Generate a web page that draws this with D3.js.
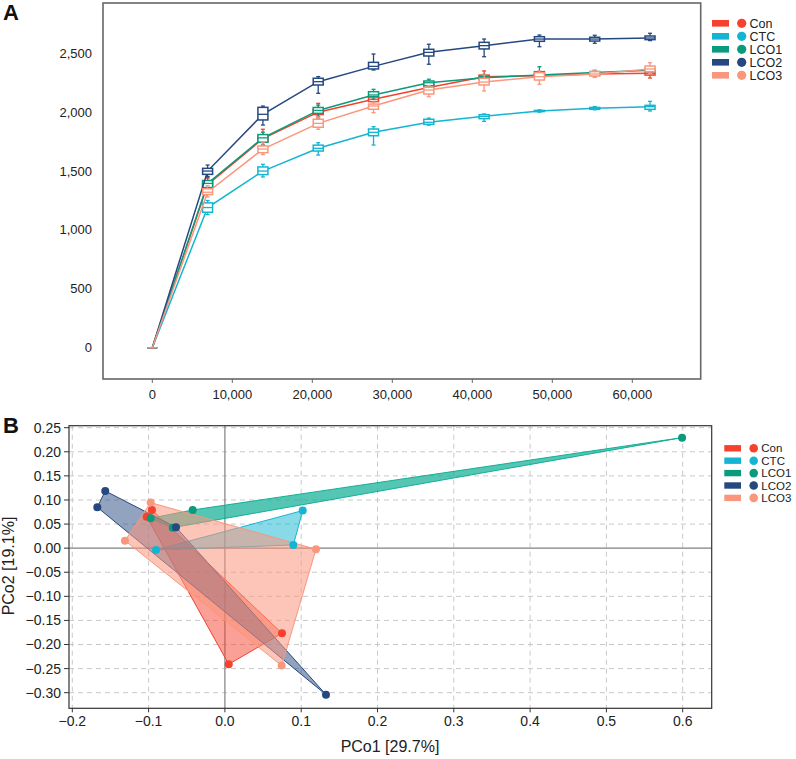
<!DOCTYPE html>
<html><head><meta charset="utf-8">
<script src="https://cdn.jsdelivr.net/npm/d3@7"></script>
<style>
html,body{margin:0;padding:0;background:#fff;}
svg{display:block;font-family:Arial,"Liberation Sans",Helvetica,sans-serif;}
</style></head>
<body>
<svg id="chart" width="796" height="759"></svg>
<script>
// ---------- DATA ----------
const groups = ["Con", "CTC", "LCO1", "LCO2", "LCO3"];
const colors = ["#F5412D", "#14B5D2", "#0A9A7C", "#24487F", "#FA967C"];

// Panel A: rarefaction depth and box stats [min, q1, median, q3, max]
const depth = [0, 6913, 13826, 20739, 27652, 34565, 41478, 48391, 55304, 62217];
const conBox = [[0,0,0,0,0],[1340,1365,1385,1410,1440],[1720,1750,1775,1800,1855],[1950,1980,2000,2025,2075],[2060,2090,2110,2130,2160],[2170,2195,2210,2235,2260],[2245,2275,2300,2315,2350],[2280,2300,2310,2325,2345],[2300,2315,2325,2335,2350],[2290,2315,2330,2345,2360]];
const ctcBox = [[0,0,0,0,0],[1130,1150,1190,1230,1250],[1450,1470,1500,1535,1557],[1636,1670,1693,1720,1741],[1721,1800,1829,1857,1877],[1890,1897,1914,1940,1950],[1922,1945,1965,1979,1985],[2000,2005,2010,2015,2020],[2020,2025,2033,2040,2048],[2010,2024,2047,2058,2092]];
const lco1Box = [[0,0,0,0,0],[1330,1360,1395,1420,1450],[1720,1745,1782,1810,1830],[1965,1990,2015,2040,2060],[2110,2131,2146,2174,2194],[2215,2225,2250,2265,2280],[2265,2280,2293,2305,2320],[2290,2301,2316,2344,2386],[2320,2330,2338,2345,2355],[2330,2345,2356,2365,2375]];
const lco2Box = [[0,0,0,0,0],[1452,1472,1500,1523,1551],[1891,1934,1982,2041,2052],[2160,2231,2259,2288,2302],[2358,2367,2389,2423,2494],[2407,2477,2508,2534,2577],[2471,2537,2565,2593,2621],[2556,2602,2621,2641,2655],[2585,2604,2621,2636,2653],[2608,2616,2630,2647,2670]];
const lco3Box = [[0,0,0,0,0],[1280,1300,1320,1350,1375],[1640,1656,1687,1713,1740],[1855,1872,1905,1940,1960],[1996,2025,2052,2069,2085],[2131,2154,2188,2211,2225],[2180,2231,2256,2288,2316],[2237,2273,2301,2336,2350],[2295,2307,2324,2344,2355],[2330,2344,2367,2392,2420]];
const xTicksA = [0, 10000, 20000, 30000, 40000, 50000, 60000];
const yTicksA = [0, 500, 1000, 1500, 2000, 2500];

// Panel B: PCoA coordinates [PCo1, PCo2]
const conPts = [[-0.0956,0.0793],[-0.1025,0.0654],[0.0748,-0.1767],[0.005,-0.241]];
const ctcPts = [[0.102,0.078],[0.0897,0.0066],[-0.0903,-0.0037]];
const lco1Pts = [[0.5992,0.2294],[-0.0422,0.0793],[-0.0973,0.062],[-0.0684,0.0426]];
const lco2Pts = [[-0.1568,0.1187],[-0.1672,0.0848],[-0.0641,0.0433],[0.1325,-0.304]];
const lco3Pts = [[-0.0973,0.0945],[-0.131,0.0156],[0.1194,-0.0023],[0.0744,-0.2438]];
const xTicksB = [-0.2, -0.1, 0.0, 0.1, 0.2, 0.3, 0.4, 0.5, 0.6];
const yTicksB = [0.25, 0.20, 0.15, 0.10, 0.05, 0.00, -0.05, -0.10, -0.15, -0.20, -0.25, -0.30];
const xTitleB = "PCo1 [29.7%]";
const yTitleB = "PCo2 [19.1%]";

// ---------- DRAW ----------
const svg = d3.select("#chart");
const boxes = [conBox, ctcBox, lco1Box, lco2Box, lco3Box];
const pts = [conPts, ctcPts, lco1Pts, lco2Pts, lco3Pts];
const polyFill = ["#F5412D", "#14B5D2", "#12B096", "#24487F", "#FA967C"];
const fillOp = [0.5, 0.5, 0.72, 0.5, 0.55];

// ===== Panel A =====
const A = {l:103, t:3, r:700.7, b:379};
const xA = d3.scaleLinear().domain([0, 60000]).range([152.3, 632.3]);
const yA = d3.scaleLinear().domain([0, 2500]).range([347.7, 53.3]);
const gA = svg.append("g");

gA.append("rect").attr("x", A.l).attr("y", A.t).attr("width", A.r - A.l).attr("height", A.b - A.t)
  .attr("fill", "none").attr("stroke", "#666").attr("stroke-width", 1.6);

const fmt = d3.format(",");
gA.selectAll(".xt").data(xTicksA).join("line")
  .attr("x1", d => xA(d)).attr("x2", d => xA(d)).attr("y1", A.b).attr("y2", A.b + 4)
  .attr("stroke", "#666").attr("stroke-width", 1);
gA.selectAll(".xl").data(xTicksA).join("text")
  .attr("x", d => xA(d)).attr("y", 399).attr("text-anchor", "middle")
  .attr("font-size", 13).attr("fill", "#222").text(d => fmt(d));
gA.selectAll(".yl").data(yTicksA).join("text")
  .attr("x", 92).attr("y", d => yA(d)).attr("dy", "0.35em").attr("text-anchor", "end")
  .attr("font-size", 13).attr("fill", "#222").text(d => fmt(d));

const line = d3.line().x((d, i) => xA(depth[i])).y(d => yA(d[2]));
boxes.forEach((bx, gi) => {
  const c = colors[gi];
  const g = gA.append("g");
  g.append("path").attr("d", line(bx)).attr("fill", "none").attr("stroke", c).attr("stroke-width", 1.5);
  const bw = 10, cw = 4;
  bx.forEach((s, i) => {
    const cx = xA(depth[i]);
    g.append("line").attr("x1", cx).attr("x2", cx).attr("y1", yA(s[0])).attr("y2", yA(s[1])).attr("stroke", c).attr("stroke-width", 1.3);
    g.append("line").attr("x1", cx).attr("x2", cx).attr("y1", yA(s[3])).attr("y2", yA(s[4])).attr("stroke", c).attr("stroke-width", 1.3);
    g.append("line").attr("x1", cx - cw/2).attr("x2", cx + cw/2).attr("y1", yA(s[0])).attr("y2", yA(s[0])).attr("stroke", c).attr("stroke-width", 1.3);
    g.append("line").attr("x1", cx - cw/2).attr("x2", cx + cw/2).attr("y1", yA(s[4])).attr("y2", yA(s[4])).attr("stroke", c).attr("stroke-width", 1.3);
    g.append("rect").attr("x", cx - bw/2).attr("width", bw)
      .attr("y", yA(s[3])).attr("height", Math.max(0, yA(s[1]) - yA(s[3])))
      .attr("fill", "#fff").attr("stroke", c).attr("stroke-width", 1.5);
    g.append("line").attr("x1", cx - bw/2).attr("x2", cx + bw/2).attr("y1", yA(s[2])).attr("y2", yA(s[2])).attr("stroke", c).attr("stroke-width", 1.3);
  });
});

// legend A
groups.forEach((name, i) => {
  const y = 23.3 + i * 13;
  gA.append("rect").attr("x", 712).attr("y", y - 3.3).attr("width", 17).attr("height", 6.6).attr("fill", colors[i]);
  gA.append("circle").attr("cx", 741.7).attr("cy", y).attr("r", 4.6).attr("fill", colors[i]);
  gA.append("text").attr("x", 749.5).attr("y", y).attr("dy", "0.36em").attr("font-size", 12.5).attr("fill", "#222").text(name);
});
svg.append("text").attr("x", 3).attr("y", 20).attr("font-size", 22).attr("font-weight", "bold").attr("fill", "#111").text("A");

// ===== Panel B =====
const B = {l:69, t:425.7, r:711.7, b:708.3};
const xB = d3.scaleLinear().domain([-0.2, 0.6]).range([72.3, 682.7]);
const yB = d3.scaleLinear().domain([-0.3, 0.25]).range([692.7, 427.7]);
const gB = svg.append("g");

// grid
gB.selectAll(".gx").data(xTicksB.filter(d => Math.abs(d) > 1e-9)).join("line")
  .attr("x1", d => xB(d)).attr("x2", d => xB(d)).attr("y1", B.t).attr("y2", B.b)
  .attr("stroke", "#c8c8c8").attr("stroke-width", 1).attr("stroke-dasharray", "5,4");
gB.selectAll(".gy").data(yTicksB.filter(d => Math.abs(d) > 1e-9)).join("line")
  .attr("x1", B.l).attr("x2", B.r).attr("y1", d => yB(d)).attr("y2", d => yB(d))
  .attr("stroke", "#c8c8c8").attr("stroke-width", 1).attr("stroke-dasharray", "5,4");
gB.append("line").attr("x1", xB(0)).attr("x2", xB(0)).attr("y1", B.t).attr("y2", B.b).attr("stroke", "#808080").attr("stroke-width", 1.2);
gB.append("line").attr("x1", B.l).attr("x2", B.r).attr("y1", yB(0)).attr("y2", yB(0)).attr("stroke", "#808080").attr("stroke-width", 1.2);

// polygons
pts.forEach((p, gi) => {
  const hull = d3.polygonHull(p.map(d => [xB(d[0]), yB(d[1])]));
  gB.append("path").attr("d", "M" + hull.join("L") + "Z")
    .attr("fill", polyFill[gi]).attr("fill-opacity", fillOp[gi])
    .attr("stroke", polyFill[gi]).attr("stroke-width", 1).attr("stroke-linejoin", "round");
});
pts.forEach((p, gi) => {
  gB.selectAll(null).data(p).join("circle")
    .attr("cx", d => xB(d[0])).attr("cy", d => yB(d[1])).attr("r", 4)
    .attr("fill", colors[gi]);
});

// frame
gB.append("rect").attr("x", B.l).attr("y", B.t).attr("width", B.r - B.l).attr("height", B.b - B.t)
  .attr("fill", "none").attr("stroke", "#333").attr("stroke-width", 1.2);

// axes
gB.selectAll(".bxt").data(xTicksB).join("line")
  .attr("x1", d => xB(d)).attr("x2", d => xB(d)).attr("y1", B.b).attr("y2", B.b + 4).attr("stroke", "#333");
gB.selectAll(".bxl").data(xTicksB).join("text")
  .attr("x", d => xB(d)).attr("y", 726).attr("text-anchor", "middle").attr("font-size", 14).attr("fill", "#222")
  .text(d => d3.format(".1f")(d));
gB.selectAll(".byt").data(yTicksB).join("line")
  .attr("x1", B.l - 5).attr("x2", B.l).attr("y1", d => yB(d)).attr("y2", d => yB(d)).attr("stroke", "#333");
gB.selectAll(".byl").data(yTicksB).join("text")
  .attr("x", 61).attr("y", d => yB(d)).attr("dy", "0.35em").attr("text-anchor", "end").attr("font-size", 14).attr("fill", "#222")
  .text(d => d3.format(".2f")(d));
gB.append("text").attr("x", 390).attr("y", 752).attr("text-anchor", "middle").attr("font-size", 16).attr("fill", "#222").text(xTitleB);
gB.append("text").attr("transform", "translate(14,566) rotate(-90)").attr("text-anchor", "middle").attr("font-size", 16).attr("fill", "#222").text(yTitleB);

// legend B
groups.forEach((name, i) => {
  const y = 448.3 + i * 12.4;
  gB.append("rect").attr("x", 724.3).attr("y", y - 3.2).attr("width", 16.7).attr("height", 6.4).attr("fill", colors[i]);
  gB.append("circle").attr("cx", 753.7).attr("cy", y).attr("r", 4.3).attr("fill", colors[i]);
  gB.append("text").attr("x", 761.3).attr("y", y).attr("dy", "0.36em").attr("font-size", 11.5).attr("fill", "#222").text(name);
});
svg.append("text").attr("x", 3).attr("y", 433).attr("font-size", 22).attr("font-weight", "bold").attr("fill", "#111").text("B");
</script>
</body></html>
